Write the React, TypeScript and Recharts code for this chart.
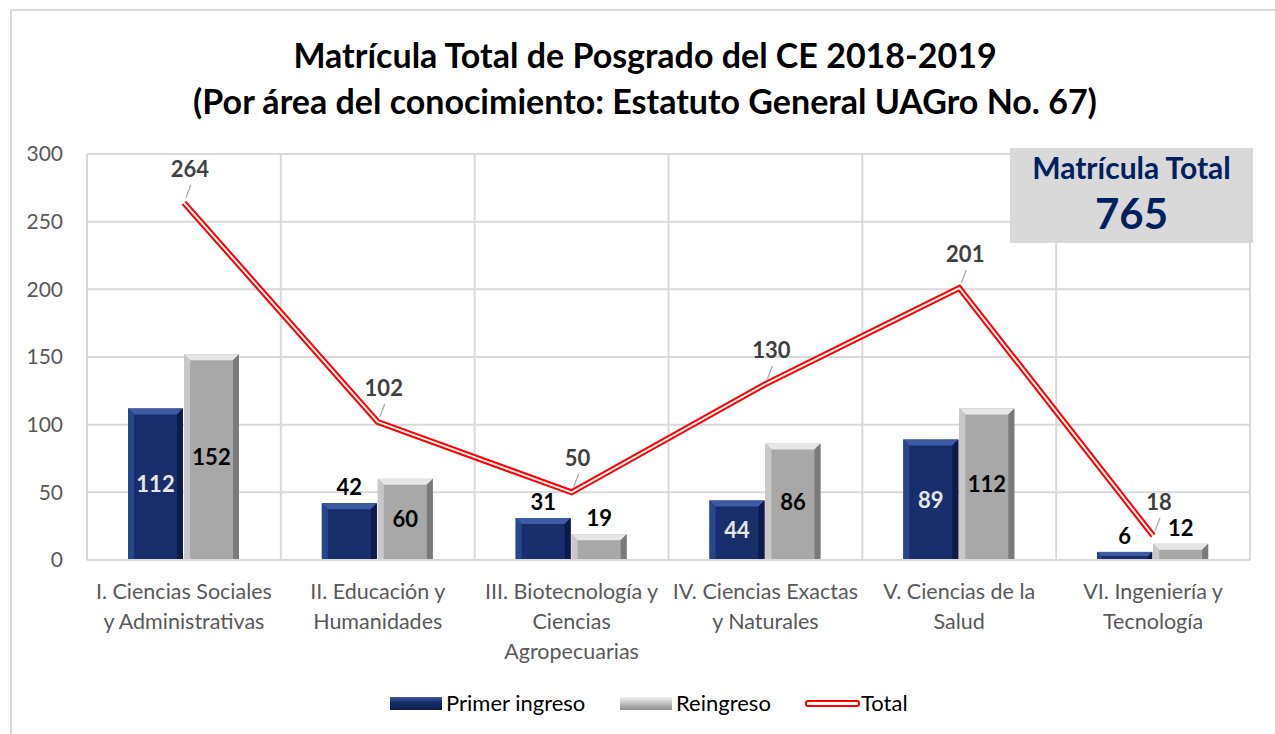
import { ComposedChart, Bar, Line, XAxis, YAxis, CartesianGrid, LabelList } from 'recharts';

const categories = [
  'I. Ciencias Sociales y Administrativas',
  'II. Educación y Humanidades',
  'III. Biotecnología y Ciencias Agropecuarias',
  'IV. Ciencias Exactas y Naturales',
  'V. Ciencias de la Salud',
  'VI. Ingeniería y Tecnología',
];
const categoryLines = [
  ['I. Ciencias Sociales', 'y Administrativas'],
  ['II. Educación y', 'Humanidades'],
  ['III. Biotecnología y', 'Ciencias', 'Agropecuarias'],
  ['IV. Ciencias Exactas', 'y Naturales'],
  ['V. Ciencias de la', 'Salud'],
  ['VI. Ingeniería y', 'Tecnología'],
];
const primerIngreso = [112, 42, 31, 44, 89, 6];
const reingreso = [152, 60, 19, 86, 112, 12];
const total = [264, 102, 50, 130, 201, 18];
const yTicks = [0, 50, 100, 150, 200, 250, 300];
const matriculaTotal = 765;

const data = categories.map((c, i) => ({
  name: c,
  primer: primerIngreso[i],
  reingreso: reingreso[i],
  total: total[i],
}));

const FONT = 'Lato, "Open Sans", sans-serif';
const GRID = '#d9d9d9';

const BLUE = { body: '#182f6c', top: '#3d5aa3', left: '#2a4590', right: '#0c1c4a' };
const GRAY = { body: '#a8a8a8', top: '#e6e6e6', left: '#c8c8c8', right: '#7a7a7a' };

function bevelBar(pal: typeof BLUE) {
  return (props: any) => {
    const { x, y, width, height } = props;
    if (!height || height <= 0) return <g />;
    const b = Math.min(6, height / 2);
    return (
      <g>
        <rect x={x} y={y} width={width} height={height} fill={pal.body} />
        <polygon points={`${x},${y} ${x + width},${y} ${x + width - b},${y + b} ${x + b},${y + b}`} fill={pal.top} />
        <polygon points={`${x},${y} ${x + b},${y + b} ${x + b},${y + height} ${x},${y + height}`} fill={pal.left} />
        <polygon points={`${x + width},${y} ${x + width},${y + height} ${x + width - b},${y + height} ${x + width - b},${y + b}`} fill={pal.right} />
      </g>
    );
  };
}

function barLabel(insideColor: string) {
  return (props: any) => {
    const { x, y, width, height, value } = props;
    const inside = height > 58;
    const cx = x + width / 2;
    const cy = inside ? y + height / 2 : y - 16;
    return (
      <text x={cx} y={cy} dy={8} textAnchor="middle" fill={inside ? insideColor : '#000'}
        style={{ fontFamily: FONT, fontWeight: 700, fontSize: 22 }}>
        {value}
      </text>
    );
  };
}

const totalLabel = (props: any) => {
  const { x, y, value } = props;
  return (
    <g>
      <line x1={x + 2} y1={y - 5} x2={x + 7} y2={y - 18} stroke="#a6a6a6" strokeWidth={1.2} />
      <text x={x + 6} y={y - 26} textAnchor="middle" fill="#404040"
        style={{ fontFamily: FONT, fontWeight: 700, fontSize: 22 }}>
        {value}
      </text>
    </g>
  );
};

const XTick = (props: any) => {
  const { x, y, payload } = props;
  const idx = categories.indexOf(payload.value);
  const lines = categoryLines[idx] || [payload.value];
  return (
    <g>
      {lines.map((l, i) => (
        <text key={i} x={x} y={y + 31 + i * 30} textAnchor="middle" fill="#595959"
          style={{ fontFamily: FONT, fontSize: 21.5 }}>
          {l}
        </text>
      ))}
    </g>
  );
};

export default function App() {
  return (
    <div style={{ position: 'absolute', left: 0, top: 0, width: 1275, height: 734, overflow: 'hidden', background: '#fff', fontFamily: FONT }}>
      <div style={{ position: 'absolute', left: 10, top: 9, width: 1400, height: 900, border: `2px solid ${GRID}` }} />
      <div style={{ position: 'absolute', left: 0, top: 32, width: 1290, textAlign: 'center', fontWeight: 700, fontSize: 34, lineHeight: '46px', color: '#000' }}>
        <div>Matrícula Total de Posgrado del CE 2018-2019</div>
        <div>(Por área del conocimiento: Estatuto General UAGro No. 67)</div>
      </div>
      <ComposedChart width={1275} height={734} data={data} margin={{ top: 154, right: 25, left: 27, bottom: 64 }}
        barGap={1} barCategoryGap="21%" style={{ position: 'absolute', left: 0, top: 0 }}>
        <CartesianGrid stroke={GRID} strokeWidth={2}
          verticalCoordinatesGenerator={({ offset }: any) =>
            categories.concat(['']).map((_, i) => offset.left + (i * offset.width) / categories.length)} />
        <XAxis dataKey="name" height={110} tick={<XTick />} tickLine={false} axisLine={{ stroke: GRID, strokeWidth: 2 }} interval={0} />
        <YAxis domain={[0, 300]} ticks={yTicks} width={60} tickSize={0} tickMargin={24} axisLine={false}
          tick={{ fill: '#595959', fontSize: 21, fontFamily: FONT }} />
        <Bar dataKey="primer" barSize={55} shape={bevelBar(BLUE)} isAnimationActive={false}>
          <LabelList dataKey="primer" content={barLabel('#e6e6e6')} />
        </Bar>
        <Bar dataKey="reingreso" barSize={55} shape={bevelBar(GRAY)} isAnimationActive={false}>
          <LabelList dataKey="reingreso" content={barLabel('#000')} />
        </Bar>
        <Line dataKey="total" stroke="#ff0000" strokeWidth={6} dot={false} isAnimationActive={false} />
        <Line dataKey="total" stroke="#f2f2f2" strokeWidth={2} dot={false} isAnimationActive={false}>
          <LabelList dataKey="total" content={totalLabel} />
        </Line>
      </ComposedChart>
      <div style={{ position: 'absolute', left: 1010, top: 148, width: 243, height: 95, background: '#d9d9d9', color: '#002060', fontWeight: 700, textAlign: 'center' }}>
        <div style={{ fontSize: 30, marginTop: 0, lineHeight: '38px' }}>Matrícula Total</div>
        <div style={{ fontSize: 42, lineHeight: '54px' }}>{matriculaTotal}</div>
      </div>
      <div style={{ position: 'absolute', left: 0, top: 689, width: 1275, height: 28, fontSize: 22, color: '#000' }}>
        <div style={{ position: 'absolute', left: 390, top: 8, width: 52, height: 13, background: 'linear-gradient(#3d5aa3, #182f6c 40%, #0c1c4a)' }} />
        <div style={{ position: 'absolute', left: 446, top: 0 }}>Primer ingreso</div>
        <div style={{ position: 'absolute', left: 620, top: 8, width: 52, height: 13, background: 'linear-gradient(#f2f2f2, #c8c8c8 40%, #8c8c8c)' }} />
        <div style={{ position: 'absolute', left: 676, top: 0 }}>Reingreso</div>
        <div style={{ position: 'absolute', left: 805, top: 11, width: 51, height: 3, border: '2px solid #ff0000', borderRadius: 3, background: '#fff' }} />
        <div style={{ position: 'absolute', left: 861, top: 0 }}>Total</div>
      </div>
    </div>
  );
}
